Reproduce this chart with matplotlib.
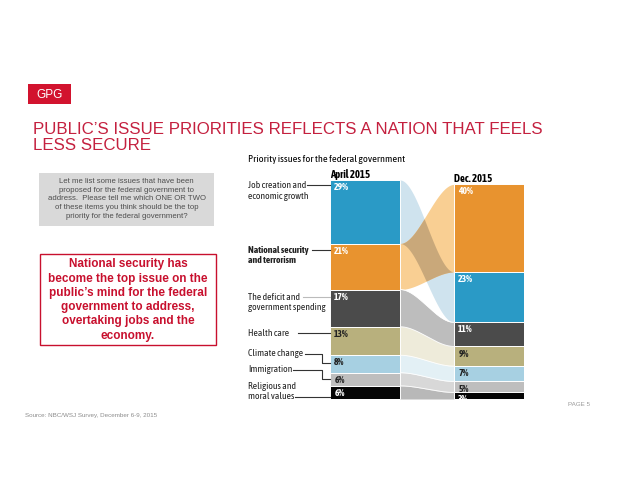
import numpy as np
import matplotlib.pyplot as plt
from matplotlib import font_manager
from matplotlib.patches import Rectangle


# -----------------------------
# Data
# -----------------------------
issues = [
    "Job creation and\neconomic growth",
    "National security\nand terrorism",
    "The deficit and\ngovernment spending",
    "Health care",
    "Climate change",
    "Immigration",
    "Religious and\nmoral values",
]
april_2015 = [29, 21, 17, 13, 8, 6, 6]
dec_2015 = [23, 40, 11, 9, 7, 5, 3]
dec_order = [1, 0, 2, 3, 4, 5, 6]  # top-to-bottom order in the Dec. 2015 column

bar_colors = ["#2A9AC6", "#E8932F", "#4B4B4B", "#B8B07D", "#A7D0E2", "#BEBEBE", "#050505"]
flow_colors = ["#CFE3EE", "#F9CF93", "#BDBDBD", "#EEEBDA", "#E3F0F5", "#D8D8D8", "#B8B8B8"]
overlap_color = "#C9A87A"
pct_colors = ["white", "white", "white", "#222222", "#222222", "#222222", "white"]

title = "PUBLIC\u2019S ISSUE PRIORITIES REFLECTS A NATION THAT FEELS\nLESS SECURE"
question = ("Let me list some issues that have been\n"
            "proposed for the federal government to\n"
            "address.  Please tell me which ONE OR TWO\n"
            "of these items you think should be the top\n"
            "priority for the federal government?")
callout = ("National security has\n"
           "become the top issue on the\n"
           "public\u2019s mind for the federal\n"
           "government to address,\n"
           "overtaking jobs and the\n"
           "economy.")
source = "Source: NBC/WSJ Survey, December 6-9, 2015"


# -----------------------------
# Fonts: a condensed family that has both regular and bold
# -----------------------------
def weight_num(w):
    return w if isinstance(w, (int, float)) else font_manager.weight_dict.get(w, 400)


weights = {}
for f in font_manager.fontManager.ttflist:
    weights.setdefault(f.name, set()).add(weight_num(f.weight))

COND = "Liberation Sans"
for name in ["Archivo Narrow", "Liberation Sans Narrow", "Asap Condensed",
             "Barlow Semi Condensed", "Encode Sans Semi Condensed", "Cabin Condensed"]:
    ws = weights.get(name, set())
    if any(w >= 600 for w in ws) and any(w <= 500 for w in ws):
        COND = name
        break
PAGE = "Liberation Sans"

RED = "#C8102E"

# -----------------------------
# Figure / page layer (pixel coords)
# -----------------------------
W, H = 638, 493
fig = plt.figure(figsize=(W / 100, H / 100), dpi=100)
pg = fig.add_axes([0, 0, 1, 1])
pg.set_xlim(0, W)
pg.set_ylim(H, 0)
pg.axis("off")

# scale the condensed font so "Job creation and" is ~60 px wide, as in the slide
probe = pg.text(0, 0, "Job creation and", fontsize=7, family=COND)
fig.canvas.draw()
CS = 60 / probe.get_window_extent(fig.canvas.get_renderer()).width
probe.remove()

pg.add_patch(Rectangle((28, 84), 43, 20, color="#D2132E", lw=0))
pg.text(49.5, 94.5, "GPG", color="white", fontsize=8.5, family=PAGE,
        ha="center", va="center")

t_title = pg.text(33, 137.5, title, color="#C4203F", fontsize=10.5, family=PAGE,
                  ha="left", va="center", linespacing=1.15)

pg.add_patch(Rectangle((39, 173), 175, 53, color="#D9D9D9", lw=0))
pg.text(126.5, 199, question, color="#4D4D4D", fontsize=5.6, family=PAGE,
        ha="center", va="center", linespacing=1.32)

pg.add_patch(Rectangle((40, 254), 176, 91, fill=False, edgecolor=RED, lw=1))
pg.text(128, 300, callout, color=RED, fontsize=8.5, family=PAGE, weight="bold",
        ha="center", va="center", linespacing=1.25)

pg.text(25, 416, source, color="#8C8C8C", fontsize=4.5, family=PAGE, va="center")
pg.text(590, 405, "PAGE 5", color="#999999", fontsize=4.5, family=PAGE,
        ha="right", va="center")

# -----------------------------
# Sankey-style chart
# -----------------------------
X0, Y0, PXW, PXH = 330, 399, 194, 2.19  # chart origin and scale in pixels


def to_data(px, py):
    return (px - X0) / PXW, (Y0 - py) / PXH


ax = fig.add_axes([X0 / W, (H - Y0) / H, PXW / W, 100 * PXH / H])
ax.set_xlim(0, 1)
ax.set_ylim(0, 100)
ax.axis("off")

bw = 70 / PXW
n = len(issues)

l_top = np.sum(april_2015) - np.concatenate([[0], np.cumsum(april_2015)[:-1]])
l_bot = l_top - np.array(april_2015)

r_top = np.zeros(n)
r_bot = np.zeros(n)
level = float(np.sum(dec_2015))
for i in dec_order:
    r_top[i] = level
    level -= dec_2015[i]
    r_bot[i] = level

# flows
xs = np.linspace(bw, 1 - bw, 200)
t = (xs - bw) / (1 - 2 * bw)
ease = t * t * (3 - 2 * t)
edges = []
for i in range(n):
    lo = l_bot[i] + (r_bot[i] - l_bot[i]) * ease
    hi = l_top[i] + (r_top[i] - l_top[i]) * ease
    ax.fill_between(xs, lo, hi, color=flow_colors[i], lw=0, zorder=1)
    edges.append((lo, hi))
    if i >= 2:
        ax.plot(xs, hi, color="white", lw=0.6, zorder=2)

# where jobs and national security flows cross
lo = np.maximum(edges[0][0], edges[1][0])
hi = np.minimum(edges[0][1], edges[1][1])
ax.fill_between(xs, lo, hi, where=hi > lo, interpolate=True,
                color=overlap_color, lw=0, zorder=2)

# bars
for i in range(n):
    ax.bar(0, april_2015[i], bottom=l_bot[i], width=bw, align="edge",
           color=bar_colors[i], edgecolor="white", lw=0.7, zorder=3)
    ax.bar(1 - bw, dec_2015[i], bottom=r_bot[i], width=bw, align="edge",
           color=bar_colors[i], edgecolor="white", lw=0.7, zorder=3)
    ax.text(0.022, l_top[i] - 1.4, f"{april_2015[i]}%", color=pct_colors[i],
            fontsize=6.8 * CS, family=COND, weight="bold", va="top", zorder=4)
    ax.text(1 - bw + 0.022, r_top[i] - 1.4, f"{dec_2015[i]}%", color=pct_colors[i],
            fontsize=6.8 * CS, family=COND, weight="bold", va="top", zorder=4)

# headers
hx, hy = to_data(248, 159)
ax.text(hx, hy, "Priority issues for the federal government", fontsize=7.3 * CS,
        family=COND, va="center", clip_on=False)
ax.text(0, to_data(0, 174)[1], "April 2015", fontsize=7.5 * CS, family=COND,
        weight="bold", va="center", clip_on=False)
ax.text(1 - bw, to_data(0, 178)[1], "Dec. 2015", fontsize=7.5 * CS, family=COND,
        weight="bold", va="center", clip_on=False)

# issue labels with leader lines (pixel layout)
label_y = [191, 255.5, 302.5, 333, 354, 370, 391.5]
leaders = [
    [(307, 185), (330, 185)],
    [(312, 250), (330, 250)],
    [(303, 297), (330, 297)],
    [(298, 333), (330, 333)],
    [(305, 354), (322, 354), (322, 363), (330, 363)],
    [(293, 370), (322, 370), (322, 379), (330, 379)],
    [(295, 397), (330, 397)],
]
for i in range(n):
    lx, ly = to_data(248, label_y[i])
    ax.text(lx, ly, issues[i], fontsize=6.8 * CS, family=COND, va="center",
            weight="bold" if i == 1 else "normal", linespacing=1.15,
            color="#222222", clip_on=False)
    pts = np.array([to_data(px, py) for px, py in leaders[i]])
    ax.plot(pts[:, 0], pts[:, 1], color="#BBBBBB" if i == 2 else "#333333",
            lw=0.8, clip_on=False, zorder=5)

# stretch the letter-spaced title a little towards its width in the slide
fig.canvas.draw()
bb = t_title.get_window_extent(fig.canvas.get_renderer())
t_title.set_fontsize(t_title.get_fontsize() * 515 / bb.width)

fig.savefig("out.png", dpi=100)
